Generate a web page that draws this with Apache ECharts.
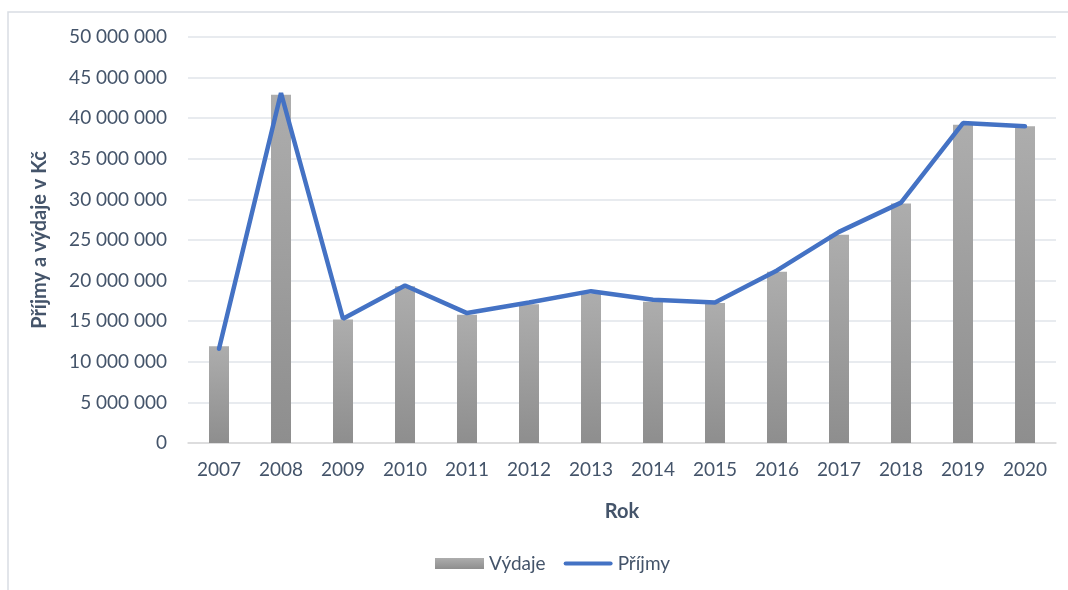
<!DOCTYPE html>
<html>
<head>
<meta charset="utf-8">
<title>Příjmy a výdaje</title>
<script src="https://cdn.jsdelivr.net/npm/echarts@6/dist/echarts.min.js"></script>
<style>
  html, body { margin: 0; padding: 0; background: #fff; }
  #chart { width: 1068px; height: 590px; }
</style>
</head>
<body>
<div id="chart"></div>
<script>
// roky a hodnoty (Kč)
const years = ['2007', '2008', '2009', '2010', '2011', '2012', '2013', '2014', '2015', '2016', '2017', '2018', '2019', '2020']
const vydaje = [11900000, 42900000, 15200000, 19300000, 15800000, 17100000, 18400000, 17400000, 17250000, 21100000, 25650000, 29500000, 39200000, 39000000]
const prijmy = [11600000, 43100000, 15300000, 19400000, 16000000, 17300000, 18700000, 17650000, 17300000, 21250000, 26000000, 29600000, 39400000, 39000000]

const textColor = '#44546a'
const font = 'Lato, "Open Sans", sans-serif'

const fmt = v => String(v).replace(/\B(?=(\d{3})+(?!\d))/g, ' ')

const myChart = echarts.init(document.getElementById('chart'))
myChart.setOption({
  animation: false,
  textStyle: { fontFamily: font },
  graphic: [{
    type: 'rect',
    shape: { x: 8, y: 12, width: 1080, height: 600 },
    style: { fill: 'none', stroke: '#d9dde3', lineWidth: 1.5 },
    silent: true
  }],
  grid: { left: 188, right: 12, top: 37, bottom: 147 },
  legend: {
    bottom: 12,
    left: 430,
    itemWidth: 49,
    itemHeight: 11,
    itemGap: 18,
    textStyle: { color: textColor, fontSize: 19, fontFamily: font },
    data: [
      { name: 'Výdaje', icon: 'rect' },
      { name: 'Příjmy', icon: 'path://M2,0 H50 A2,2 0 0 1 50,4.5 H2 A2,2 0 0 1 2,0 Z' }
    ]
  },
  xAxis: {
    type: 'category',
    data: years,
    name: 'Rok',
    nameLocation: 'middle',
    nameGap: 59,
    nameTextStyle: { color: textColor, fontSize: 20, fontWeight: 'bold', fontFamily: font },
    axisLine: { lineStyle: { color: '#d9d9d9', width: 1.5 } },
    axisTick: { show: false },
    axisLabel: { color: textColor, fontSize: 19, margin: 17, fontFamily: font }
  },
  yAxis: {
    type: 'value',
    min: 0,
    max: 50000000,
    interval: 5000000,
    name: 'Příjmy a výdaje v Kč',
    nameLocation: 'middle',
    nameGap: 138,
    nameTextStyle: { color: textColor, fontSize: 20, fontWeight: 'bold', fontFamily: font },
    axisLine: { show: false },
    axisTick: { show: false },
    axisLabel: { color: textColor, fontSize: 19, margin: 21, formatter: fmt, fontFamily: font },
    splitLine: { lineStyle: { color: '#e1e4ea', width: 1.5 } }
  },
  series: [
    {
      name: 'Výdaje',
      type: 'bar',
      data: vydaje,
      barWidth: 20,
      itemStyle: {
        color: new echarts.graphic.LinearGradient(0, 0, 0, 1, [
          { offset: 0, color: '#adadad' },
          { offset: 1, color: '#8e8e8e' }
        ])
      }
    },
    {
      name: 'Příjmy',
      type: 'line',
      data: prijmy,
      symbol: 'none',
      lineStyle: { color: '#4472c4', width: 4.5, cap: 'round' },
      itemStyle: { color: '#4472c4' }
    }
  ]
})
window.addEventListener('resize', () => myChart.resize())
</script>
</body>
</html>
